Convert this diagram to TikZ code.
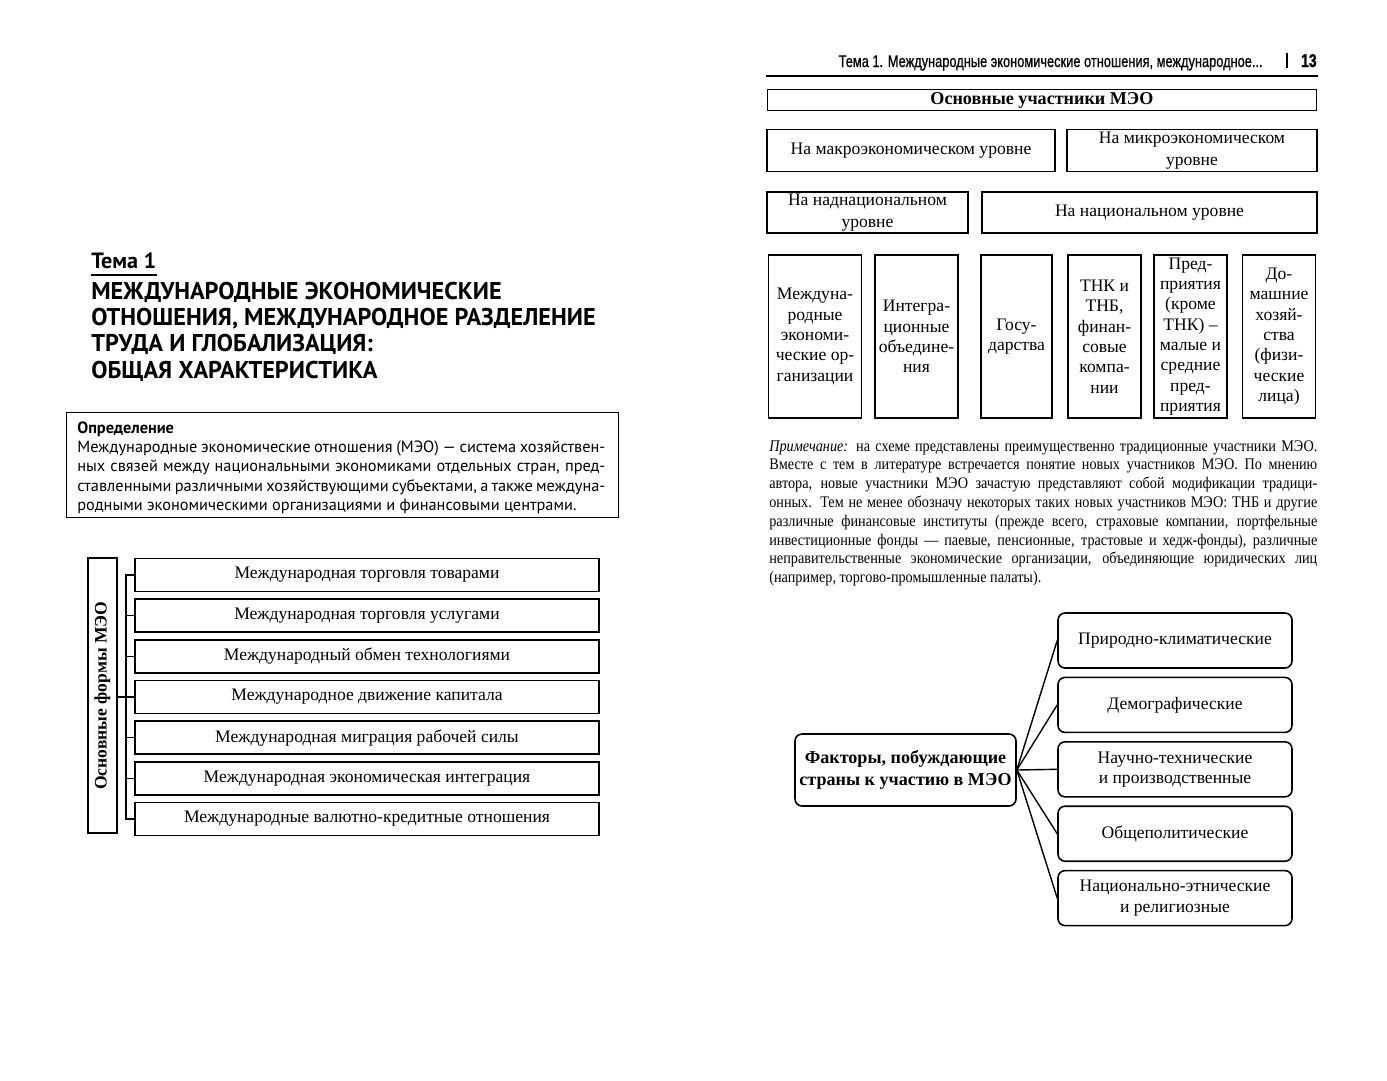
\documentclass[tikz,border=0pt]{standalone}
\usepackage{fontspec}
\setmainfont{Liberation Serif}
\newfontfamily\ptsans{PT Sans}
\newfontfamily\runfont[FakeStretch=0.76,FakeBold=0.8]{Liberation Sans}
\newfontfamily\notefont[FakeStretch=0.88]{Liberation Serif}
\usetikzlibrary{positioning}
\newcommand*{\pxu}{0.02cm}
\tikzset{
  framed/.style={draw, line width=0.9pt, inner sep=1pt, align=center,
    font=\fontsize{10}{11.6}\selectfont},
  formitem/.style={framed, minimum width=464*\pxu, minimum height=33*\pxu},
  levelbox/.style={framed, minimum height=42*\pxu, font=\fontsize{10}{12.2}\selectfont},
  actorbox/.style={framed, minimum height=163*\pxu, inner sep=0pt},
  factorbox/.style={framed, rounded corners=4pt, minimum width=234*\pxu, minimum height=55*\pxu},
  titleline/.style={anchor=base west, inner sep=0pt, font=\ptsans\bfseries\fontsize{13.8}{16}\selectfont},
}

\begin{document}
\begin{tikzpicture}[x=\pxu,y=-\pxu]
  \useasboundingbox[fill=white] (0,0) rectangle (1387,1080);

  % left page: heading
  \node[titleline, font=\ptsans\bfseries\fontsize{12.6}{15}\selectfont] (tema) at (91,268) {Тема 1};
  \draw[line width=1.3pt] ([yshift=-4pt]tema.base west) -- ([yshift=-4pt]tema.base east);
  \foreach \ln [count=\i] in {МЕЖДУНАРОДНЫЕ ЭКОНОМИЧЕСКИЕ, {ОТНОШЕНИЯ, МЕЖДУНАРОДНОЕ РАЗДЕЛЕНИЕ},
      ТРУДА И ГЛОБАЛИЗАЦИЯ:, ОБЩАЯ ХАРАКТЕРИСТИКА}
    \node[titleline] (t\i) at (91,{299+26.4*(\i-1)}) {\ln};

  % definition
  \node[draw, line width=0.9pt, minimum width=552*\pxu, minimum height=105*\pxu] (defbox) at (342.5,465) {};
  \node[anchor=north west, inner sep=0pt, text width=528*\pxu, align=justify,
        font=\ptsans\fontsize{9.3}{11}\selectfont] (deftext) at (77,421) {{\bfseries Определение}\\
    Международные экономические отношения (МЭО) — система хозяйствен-\linebreak
    ных связей между национальными экономиками отдельных стран, пред-\linebreak
    ставленными различными хозяйствующими субъектами, а также междуна-\linebreak
    родными экономическими организациями и финансовыми центрами.};

  % forms of MEO
  \node[framed, minimum width=29*\pxu, minimum height=275*\pxu, font=\bfseries\fontsize{10}{12}\selectfont]
    (forms) at (102.5,695.5) {\rotatebox{90}{Основные формы МЭО}};
  \foreach \txt [count=\i] in {Международная торговля товарами, Международная торговля услугами,
      Международный обмен технологиями, Международное движение капитала,
      Международная миграция рабочей силы, Международная экономическая интеграция,
      Международные валютно-кредитные отношения}
    \node[formitem] (f\i) at (367,{575+40.67*(\i-1)}) {\txt};
  \coordinate (spine) at (126,695);
  \draw[line width=0.8pt] (forms.east |- f4.west) -- (f4.west);
  \draw[line width=0.8pt] (f1.west) -- (f1.west -| spine) -- (f7.west -| spine) -- (f7.west);
  \foreach \i in {2,3,5,6}
    \draw[line width=0.8pt] (f\i.west) -- (f\i.west -| spine);

  % right page: running head
  \node[anchor=base east, inner sep=0pt, font=\runfont\fontsize{9.6}{11}\selectfont] (runhead) at (1263,67)
    {Тема 1. Международные экономические отношения, международное...};
  \node[anchor=base east, inner sep=0pt, font=\runfont\bfseries\fontsize{10.5}{11}\selectfont] (pageno) at (1317,67) {13};
  \draw[line width=0.6pt] (1287,53) -- (1287,68);
  \draw[line width=1pt] (766,76) -- (1318,76);

  % participants
  \node[framed, minimum width=549*\pxu, minimum height=21*\pxu, font=\bfseries\fontsize{10.3}{12}\selectfont]
    (mainp) at (1042,100) {Основные участники МЭО};
  \node[levelbox, minimum width=288*\pxu] (macro) at (911,150.5) {На макроэкономическом уровне};
  \node[levelbox, minimum width=250*\pxu] (micro) at (1192,150.5) {На микроэкономическом\\уровне};
  \node[levelbox, minimum width=201*\pxu, minimum height=41*\pxu] (supra) at (867.5,212.5) {На наднациональном\\уровне};
  \node[levelbox, minimum width=335*\pxu, minimum height=41*\pxu] (natl) at (1149.5,212.5) {На национальном уровне};

  \node[actorbox, minimum width=93*\pxu] (intorg) at (815,336.5)
    {Междуна-\\родные\\экономи-\\ческие ор-\\ганизации};
  \node[actorbox, minimum width=83*\pxu] (integ) at (916.5,336.5)
    {Интегра-\\ционные\\объедине-\\ния};
  \node[actorbox, minimum width=71*\pxu] (state) at (1016.5,336.5) {Госу-\\дарства};
  \node[actorbox, minimum width=73*\pxu] (tnc) at (1104.5,336.5)
    {ТНК и\\ТНБ,\\финан-\\совые\\компа-\\нии};
  \node[actorbox, minimum width=73*\pxu] (firms) at (1190.5,336.5)
    {Пред-\\приятия\\(кроме\\ТНК) –\\малые и\\средние\\пред-\\приятия};
  \node[actorbox, minimum width=73*\pxu] (house) at (1279,336.5)
    {До-\\машние\\хозяй-\\ства\\(физи-\\ческие\\лица)};

  % note
  \node[anchor=north west, inner sep=0pt, text width=548*\pxu, align=justify,
        font=\notefont\fontsize{9.2}{10.7}\selectfont] (note) at (769,440)
    {\textit{Примечание:} на схеме представлены преимущественно традиционные участники МЭО.\linebreak
    Вместе с тем в литературе встречается понятие новых участников МЭО. По мнению\linebreak
    автора, новые участники МЭО зачастую представляют собой модификации традици-\linebreak
    онных. Тем не менее обозначу некоторых таких новых участников МЭО: ТНБ и другие\linebreak
    различные финансовые институты (прежде всего, страховые компании, портфельные\linebreak
    инвестиционные фонды — паевые, пенсионные, трастовые и хедж-фонды), различные\linebreak
    неправительственные экономические организации, объединяющие юридических лиц\linebreak
    (например, торгово-промышленные палаты).};

  % factors
  \node[framed, rounded corners=4pt, minimum width=221*\pxu, minimum height=72*\pxu,
        font=\bfseries\fontsize{10.3}{12}\selectfont] (factors) at (905.5,770)
    {Факторы, побуждающие\\страны к участию в МЭО};
  \foreach \txt [count=\i] in {Природно-климатические, Демографические,
      {Научно-технические\\и производственные}, Общеполитические,
      {Национально-этнические\\и религиозные}}
    \node[factorbox] (fac\i) at (1175,{640.5+64.4*(\i-1)}) {\txt};
  \foreach \i in {1,...,5}
    \draw[line width=0.8pt] (factors.east) -- (fac\i.west);
\end{tikzpicture}
\end{document}
